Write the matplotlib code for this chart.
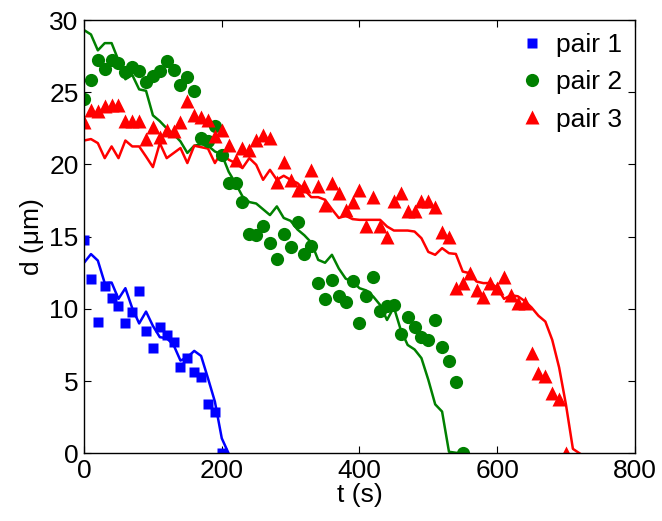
import numpy as np
import matplotlib
matplotlib.use("Agg")
import matplotlib.pyplot as plt

plt.rcParams['font.family'] = ['Liberation Sans', 'DejaVu Sans']

# pair 1: measured (squares) and model line
t1 = np.arange(0, 201, 10)
d1 = [14.78, 12.08, 9.13, 11.62, 10.75, 10.24, 9.0, 9.78, 11.25, 8.48, 7.28,
      8.76, 8.2, 7.7, 6.01, 6.64, 5.67, 5.28, 3.41, 2.85, 0.0]
t1_fit = np.arange(0, 211, 10)
d1_fit = [13.2, 13.8, 13.35, 11.79, 11.83, 10.7, 11.44, 10.05, 9.0, 9.82, 8.83,
          8.05, 7.98, 7.51, 6.43, 6.66, 7.1, 6.75, 5.2, 3.59, 1.05, 0.0]

# pair 2
t2 = np.arange(0, 551, 10)
d2 = [24.53, 25.82, 27.25, 26.6, 27.2, 27.02, 26.37, 26.74, 26.44, 25.68,
      26.1, 26.44, 27.13, 26.51, 25.52, 26.05, 25.06, 21.83, 21.64, 22.63,
      20.67, 18.71, 18.71, 17.37, 15.2, 15.13, 15.71, 14.6, 13.45, 15.2,
      14.32, 16.05, 13.79, 14.39, 11.83, 10.7, 12.02, 10.93, 10.51, 11.97,
      9.02, 10.93, 12.24, 9.87, 10.24, 10.28, 8.28, 9.43, 8.78, 8.05,
      7.86, 9.25, 7.35, 6.41, 4.93, 0.0]
t2_fit = np.arange(0, 551, 10)
d2_fit = [29.3, 29.0, 27.9, 28.4, 28.4, 27.2, 25.9, 26.2, 25.2, 25.1,
          23.4, 23.0, 22.5, 22.1, 21.6, 20.8, 21.3, 21.4, 21.3, 20.9,
          20.7, 19.5, 18.7, 17.8, 17.4, 17.3, 16.9, 16.5, 17.1, 16.3,
          16.1, 15.5, 15.1, 14.6, 13.4, 13.2, 13.75, 12.8, 12.1, 11.9,
          11.44, 11.28, 10.86, 10.28, 9.24, 10.12, 8.55, 7.51, 7.2, 6.6,
          5.1, 3.4, 2.9, 0.12, 0.05, 0.0]

# pair 3
t3 = np.arange(0, 701, 10)
d3 = [22.94, 23.79, 23.67, 24.02, 24.13, 24.09, 23.03, 22.98, 22.98, 21.76,
      22.57, 21.9, 22.4, 22.29, 22.95, 24.36, 23.44, 23.3, 23.1, 22.0,
      22.36, 21.36, 20.33, 21.13, 21.02, 21.71, 22.06, 21.83, 18.82, 20.2,
      18.94, 18.25, 18.48, 19.63, 18.48, 17.21, 18.71, 18.02, 16.86, 17.37,
      18.25, 15.75, 17.78, 15.75, 15.01, 17.44, 18.06, 16.75, 16.75, 17.44,
      17.44, 17.09, 15.3, 15.01, 11.44, 11.83, 12.52, 11.32, 10.8, 11.83,
      11.48, 12.22, 10.95, 10.44, 10.44, 6.98, 5.6, 5.37, 4.21, 3.75, 0.0]
t3_fit = np.arange(0, 721, 10)
d3_fit = [21.66, 21.76, 21.48, 20.44, 21.25, 20.44, 21.66, 21.25, 21.25, 20.55,
          19.82, 21.48, 20.44, 20.79, 21.14, 20.1, 21.3, 21.2, 21.1, 20.1,
          20.9, 20.33, 20.1, 19.75, 20.44, 19.98, 18.94, 19.63, 18.94, 19.22,
          18.94, 18.71, 18.25, 17.74, 17.74, 17.56, 16.9, 16.3, 16.45, 16.22,
          16.17, 16.17, 16.17, 16.17, 15.71, 15.43, 15.43, 15.43, 15.36, 14.9,
          13.95, 13.75, 14.21, 13.86, 13.81, 12.59, 12.48, 11.9, 11.79, 11.8,
          11.47, 10.7, 10.95, 10.88, 10.55, 10.1, 9.53, 9.13, 7.86, 5.95,
          3.36, 0.32, 0.0]

blue = (0, 0, 1)
green = (0, 0.5, 0)
red = (1, 0, 0)

fig = plt.figure(figsize=(6.62, 5.21), dpi=100)
ax = fig.add_axes([0.127, 0.1296, 0.832, 0.832])

ax.plot(t1_fit, d1_fit, '-', color=blue, lw=1.8)
ax.plot(t2_fit, d2_fit, '-', color=green, lw=1.8)
ax.plot(t3_fit, d3_fit, '-', color=red, lw=1.8)
ax.plot(t1, d1, 's', color=blue, ms=7, mec='none', label='pair 1')
ax.plot(t2, d2, 'o', color=green, ms=9.5, mec='none', label='pair 2')
ax.plot(t3, d3, '^', color=red, ms=10, mec='none', label='pair 3')

ax.set_xlim(0, 800)
ax.set_ylim(0, 30)
ax.set_xticks([0, 200, 400, 600, 800])
ax.set_yticks([0, 5, 10, 15, 20, 25, 30])
ax.tick_params(direction='in', top=True, right=True, length=5, width=0.8,
               labelsize=19, pad=4)
ax.set_xlabel('t (s)', fontsize=19, labelpad=0)
ax.set_ylabel('d (\u03bcm)', fontsize=19, labelpad=4)
for s in ax.spines.values():
    s.set_linewidth(1.0)

ax.legend(loc='upper right', frameon=False, fontsize=19, handletextpad=0.3,
          borderaxespad=0.1, labelspacing=0.5, handlelength=1.2,
          numpoints=1)

fig.savefig('out.png', dpi=100)
